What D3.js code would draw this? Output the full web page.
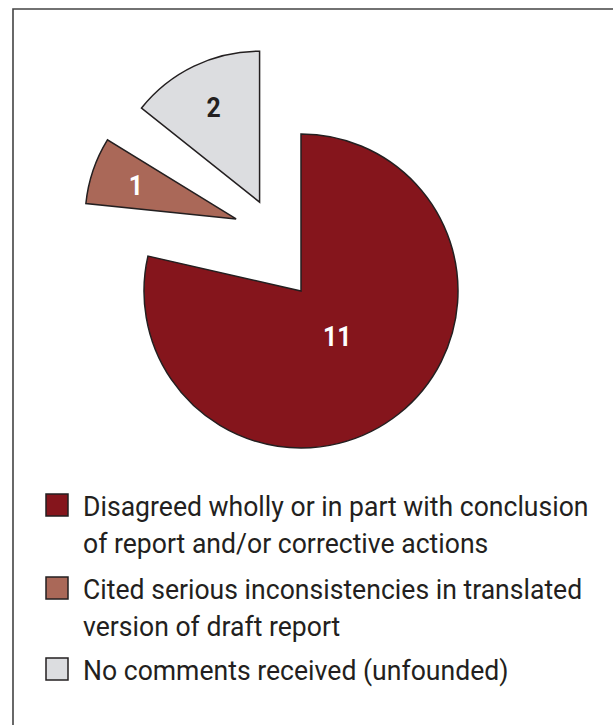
<!DOCTYPE html>
<html>
<head>
<meta charset="utf-8">
<script src="https://cdn.jsdelivr.net/npm/d3@7"></script>
<style>
  body { margin: 0; background: #fff; }
  svg { display: block; }
</style>
</head>
<body>
<svg width="613" height="725"></svg>
<script>
// Data
const categories = [
    "Disagreed wholly or in part with conclusion of report and/or corrective actions",
    "Cited serious inconsistencies in translated version of draft report",
    "No comments received (unfounded)"
];
const values = [11, 1, 2];

// Legend lines (wrapped like the original)
const legendLines = [
    ["Disagreed wholly or in part with conclusion", "of report and/or corrective actions"],
    ["Cited serious inconsistencies in translated", "version of draft report"],
    ["No comments received (unfounded)"]
];

const colors = ["#85151c", "#aa6858", "#dcdde0"];
const labelColors = ["#ffffff", "#ffffff", "#231f20"];

// explode: distance + direction (deg, clockwise from 12 o'clock), extra spin of the piece
const explode = [
    { dist: 0, angle: 0, spin: 0 },
    { dist: 97, angle: 318, spin: -7 },
    { dist: 98, angle: 335, spin: 0 }
];
const labelRatio = [0.37, 0.7, 0.7];

const font = "'Roboto', 'Liberation Sans', sans-serif";
const squeeze = 0.95; // legend text, narrower face in the original

const svg = d3.select("svg");

// Frame
svg.append("path")
    .attr("d", "M13,725 L13,9 L613,9")
    .attr("fill", "none")
    .attr("stroke", "#444")
    .attr("stroke-width", 1.6);

const cx = 301, cy = 291;
const rMain = 157, rSmall = 151;

const pie = d3.pie().sort(null).startAngle(0).endAngle(2 * Math.PI);
const arcs = pie(values);

const g = svg.append("g").attr("transform", `translate(${cx},${cy})`);

const slices = g.selectAll("g.slice")
    .data(arcs)
    .enter()
    .append("g")
    .attr("class", "slice")
    .attr("transform", (d, i) => {
        const a = explode[i].angle * Math.PI / 180;
        return `translate(${explode[i].dist * Math.sin(a)},${-explode[i].dist * Math.cos(a)}) rotate(${explode[i].spin})`;
    });

slices.append("path")
    .attr("d", (d, i) => d3.arc().innerRadius(0).outerRadius(i === 0 ? rMain : rSmall)(d))
    .attr("fill", (d, i) => colors[i])
    .attr("stroke", "#231f20")
    .attr("stroke-width", 1.5)
    .attr("stroke-linejoin", "miter");

slices.append("text")
    .attr("transform", (d, i) => {
        const r = (i === 0 ? rMain : rSmall) * labelRatio[i];
        const c = d3.arc().innerRadius(r).outerRadius(r).centroid(d);
        return `translate(${c[0]},${c[1]}) rotate(${-explode[i].spin}) scale(0.92,1)`;
    })
    .attr("text-anchor", "middle")
    .attr("dy", "0.36em")
    .attr("fill", (d, i) => labelColors[i])
    .style("font-family", font)
    .style("font-weight", "bold")
    .style("font-size", "27px")
    .text(d => d.data);

// Legend
const legend = svg.append("g");
const rowTop = [494, 577, 658];
const lineGap = 37;

legendLines.forEach((lines, i) => {
    legend.append("rect")
        .attr("x", 46)
        .attr("y", rowTop[i])
        .attr("width", 22)
        .attr("height", 22)
        .attr("fill", colors[i])
        .attr("stroke", "#231f20")
        .attr("stroke-width", 1.5);

    lines.forEach((line, j) => {
        legend.append("text")
            .attr("transform", `translate(83,${rowTop[i] + 22 + j * lineGap}) scale(${squeeze},1)`)
            .attr("fill", "#231f20")
            .style("font-family", font)
            .style("font-size", "28px")
            .text(line);
    });
});
</script>
</body>
</html>
